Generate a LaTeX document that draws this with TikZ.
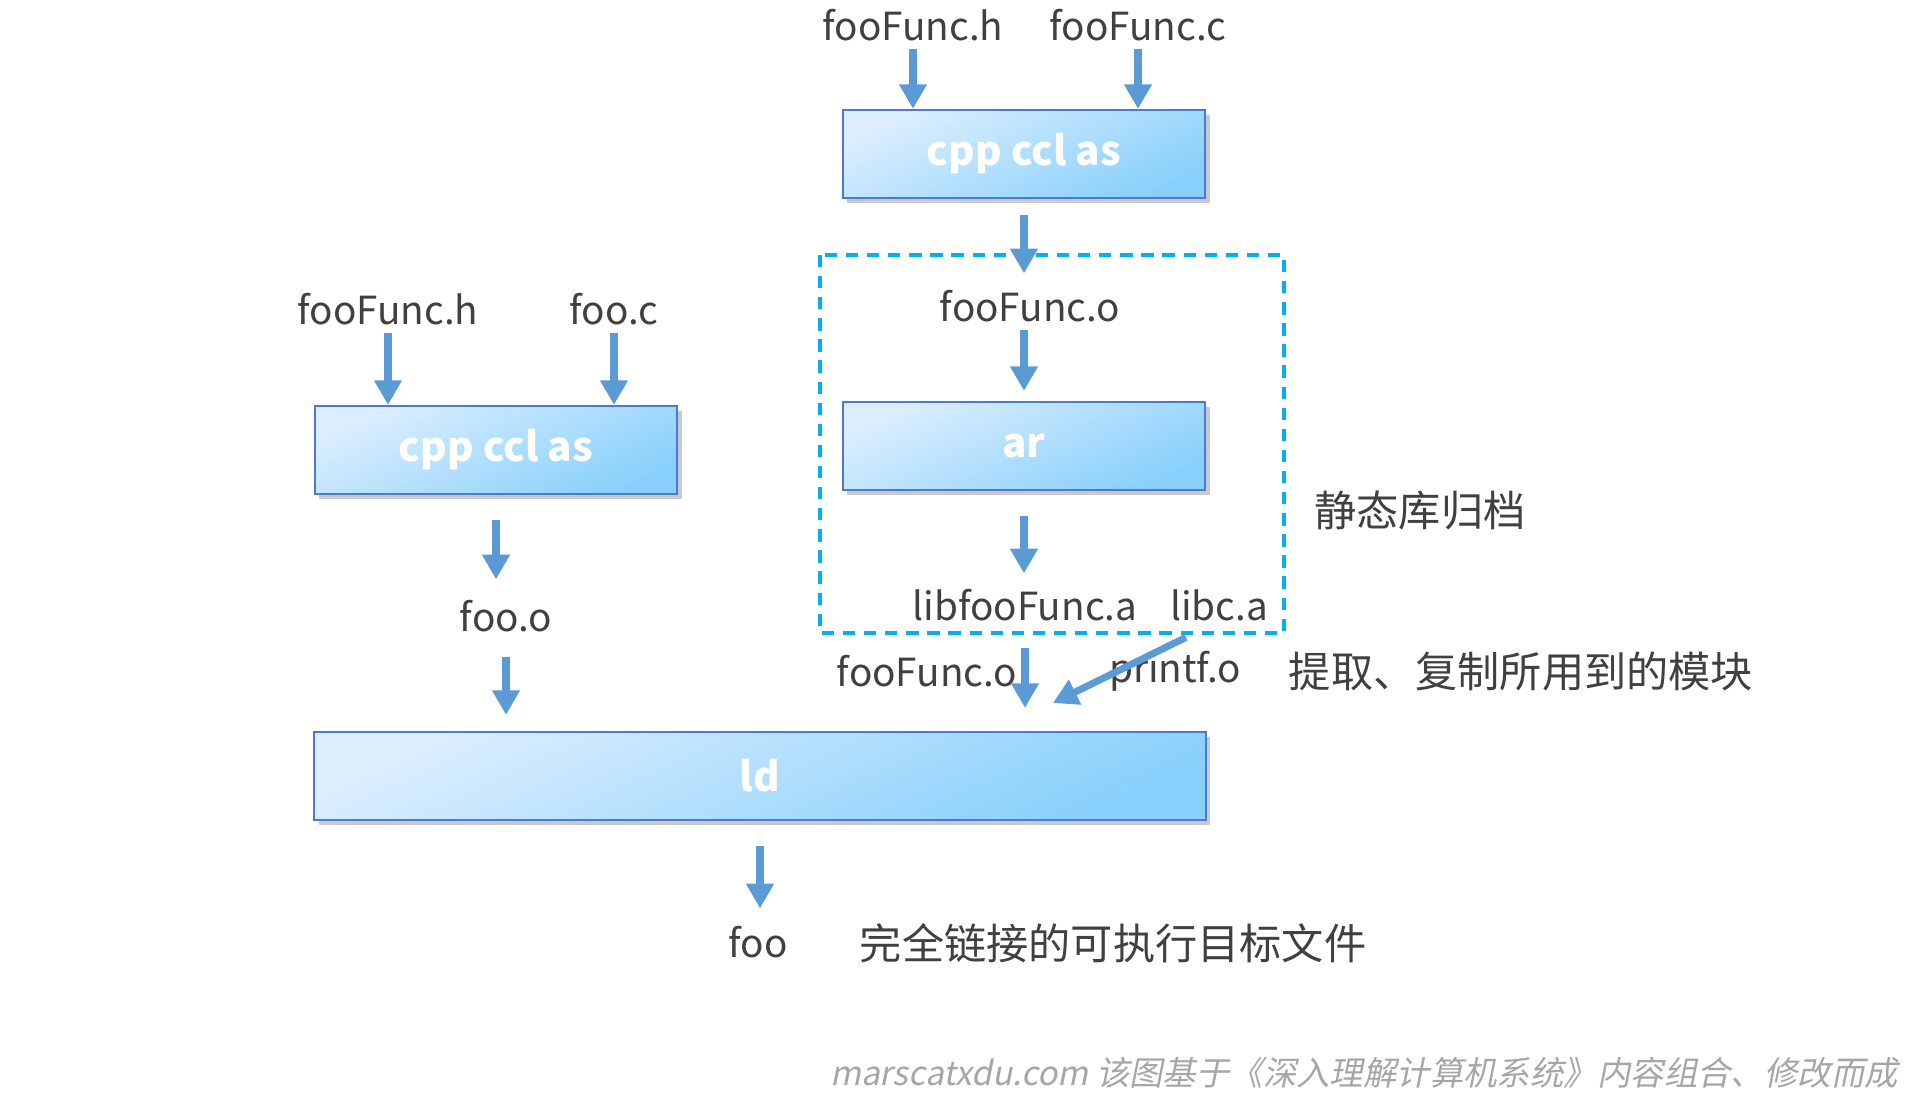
\documentclass[tikz,border=0pt]{standalone}
\usepackage{fontspec}
\setmainfont{Noto Sans CJK SC}
\newfontfamily\markfont[FakeSlant=0.2]{Noto Sans CJK SC}
\usetikzlibrary{arrows.meta,shadows}
\definecolor{arrowblue}{HTML}{5B9BD5}
\definecolor{dashcyan}{HTML}{00B0F0}
\definecolor{textgray}{HTML}{404040}
\definecolor{boxedge}{HTML}{4A7BD0}
\definecolor{boxlight}{HTML}{DCEEFE}
\definecolor{boxdark}{HTML}{88D0FB}
\definecolor{markgray}{HTML}{A6A6A6}

\begin{document}
\begin{tikzpicture}[x=0.01cm,y=-0.01cm,
    every node/.style={text=textgray,font=\fontsize{11}{13}\selectfont,inner sep=2pt},
    note/.style={font=\fontsize{12}{14}\selectfont},
    toolbox/.style={draw=boxedge,line width=0.6pt,top color=boxlight,bottom color=boxdark,shading angle=25,
      minimum height=0.88cm,text=white,font=\fontsize{11.5}{14}\selectfont\bfseries,
      drop shadow={shadow xshift=1.3pt,shadow yshift=-1.5pt,opacity=0.3,fill=black!70}},
    flow/.style={arrowblue,line width=2pt,-{Triangle[width=7.5pt,length=7pt]}}]
  \useasboundingbox (0,0) rectangle (1921,1104);

  % tools
  \node[toolbox,minimum width=3.62cm] (cc1) at (1024,154) {cpp ccl as};
  \node[toolbox,minimum width=3.62cm] (cc2) at (496,450) {cpp ccl as};
  \node[toolbox,minimum width=3.62cm] (ar) at (1024,446) {ar};
  \node[toolbox,minimum width=8.91cm] (ld) at (760,776) {ld};

  % files
  \node (hA) at (913,25) {fooFunc.h};
  \node (hB) at (1138,25) {fooFunc.c};
  \node (fo1) at (1030,306) {fooFunc.o};
  \node (lfa) at (1025,605) {libfooFunc.a};
  \node (lca) at (1219,605) {libc.a};
  \node (fo2) at (927,671) {fooFunc.o};
  \node (pfo) at (1175,671) {printf.o};
  \node (hC) at (388,309) {fooFunc.h};
  \node (fc) at (614,309) {foo.c};
  \node (fooo) at (506,616) {foo.o};
  \node (foo) at (758,942) {foo};

  % notes
  \node[note] (nlib) at (1420,510) {静态库归档};
  \node[note] (npick) at (1521,671) {提取、复制所用到的模块};
  \node[note] (nexe) at (1113,943) {完全链接的可执行目标文件};
  \node[text=markgray,font=\fontsize{9.5}{11}\markfont] (mark) at (1364,1073) {marscatxdu.com 该图基于《深入理解计算机系统》内容组合、修改而成};

  \draw[dashcyan,line width=1.2pt,dash pattern=on 3.5pt off 2.5pt] (820,255) rectangle (1284,633);

  \foreach \f in {hA,hB}{\draw[flow] (\f.south) -- (\f.south |- cc1.north);}
  \foreach \f in {hC,fc}{\draw[flow] (\f.south) -- (\f.south |- cc2.north);}
  \draw[flow,shorten <=0.16cm,shorten >=0.09cm] (cc1.south) -- (cc1.south |- fo1.north);
  \draw[flow,shorten >=0.1cm] (ar.north |- fo1.south) -- (ar.north);
  \draw[flow,shorten <=0.25cm,shorten >=0.08cm] (ar.south) -- (ar.south |- lfa.north);
  \draw[flow,shorten <=0.19cm,shorten >=0.23cm] (lfa.south) -- (lfa.south |- ld.north);
  \coordinate (ldin) at (1053,703);
  \draw[flow] ([xshift=-0.33cm,yshift=-0.09cm]lca.south) -- (ldin);
  \draw[flow,shorten <=0.25cm,shorten >=0.13cm] (cc2.south) -- (cc2.south |- fooo.north);
  \draw[flow,shorten <=0.17cm,shorten >=0.16cm] (fooo.south) -- (fooo.south |- ld.north);
  \draw[flow,shorten <=0.25cm,shorten >=0.1cm] (ld.south) -- (ld.south |- foo.north);
\end{tikzpicture}
\end{document}
